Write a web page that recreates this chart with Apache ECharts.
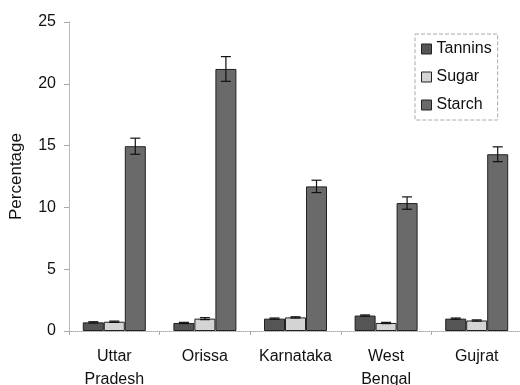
<!DOCTYPE html>
<html><head><meta charset="utf-8">
<script src="https://cdn.jsdelivr.net/npm/echarts@6/dist/echarts.min.js"></script>
<style>html,body{margin:0;padding:0;background:#fff}#c{width:520px;height:385px}</style>
</head><body><div id="c"></div>
<script>
const categories = ['Uttar\nPradesh', 'Orissa', 'Karnataka', 'West\nBengal', 'Gujrat'];
const tannins = [0.7, 0.65, 1.0, 1.25, 1.0];
const sugar = [0.75, 1.0, 1.1, 0.65, 0.85];
const starch = [14.95, 21.2, 11.7, 10.35, 14.3];
const tanninsErr = [0.05, 0.05, 0.05, 0.05, 0.05];
const sugarErr = [0.05, 0.08, 0.05, 0.05, 0.05];
const starchErr = [0.65, 1.0, 0.5, 0.5, 0.6];
const yTicks = [0, 5, 10, 15, 20, 25];

const BW = 21;
const names = ['Tannins', 'Sugar', 'Starch'];
const colors = ['#555555', '#d4d4d4', '#6a6a6a'];
const vals = [tannins, sugar, starch];
const errs = [tanninsErr, sugarErr, starchErr];

const series = [];
names.forEach((n, k) => {
  series.push({
    name: n, type: 'bar', barWidth: BW, barGap: '0%',
    data: vals[k],
    itemStyle: { color: colors[k], borderColor: '#222', borderWidth: 1 }
  });
});
names.forEach((n, k) => {
  series.push({
    type: 'custom', name: n + ' err', z: 5,
    data: vals[k].map((v, i) => [i, v, errs[k][i]]),
    renderItem: function (params, api) {
      const i = api.value(0), v = api.value(1), e = api.value(2);
      const off = (k - 1) * BW;
      const top = api.coord([i, v + e]);
      const bot = api.coord([i, v - e]);
      const x = top[0] + off;
      const h = 5;
      const st = { stroke: '#111', lineWidth: 1.2 };
      return { type: 'group', children: [
        { type: 'line', shape: { x1: x, y1: top[1], x2: x, y2: bot[1] }, style: st },
        { type: 'line', shape: { x1: x - h, y1: top[1], x2: x + h, y2: top[1] }, style: st },
        { type: 'line', shape: { x1: x - h, y1: bot[1], x2: x + h, y2: bot[1] }, style: st }
      ]};
    }
  });
});

const chart = echarts.init(document.getElementById('c'));
chart.setOption({
  animation: false,
  textStyle: { fontFamily: 'Liberation Sans, Arial, sans-serif' },
  grid: { left: 69, top: 22, width: 453, height: 309, containLabel: false, outerBoundsMode: 'none' },
  legend: {
    data: names, orient: 'vertical', left: 415, top: 34,
    itemWidth: 10, itemHeight: 10, itemGap: 12,
    padding: [7, 6, 7, 6],
    borderColor: '#aaa', borderWidth: 1, borderType: 'dashed',
    textStyle: { fontSize: 16, color: '#111', padding: [0, 0, 0, 0] },
    icon: 'rect',
    itemStyle: { borderColor: '#222', borderWidth: 1 }
  },
  xAxis: {
    type: 'category', data: categories,
    axisLine: { lineStyle: { color: '#aaa', type: 'dotted' } },
    axisTick: { show: true, length: 4, lineStyle: { color: '#aaa' } },
    axisLabel: { fontSize: 16, color: '#111', lineHeight: 23, margin: 14, interval: 0 }
  },
  yAxis: {
    type: 'value', min: yTicks[0], max: yTicks[yTicks.length - 1], interval: 5,
    name: 'Percentage', nameLocation: 'middle', nameGap: 44, nameRotate: 90,
    nameMoveOverlap: false,
    nameTextStyle: { fontSize: 17, color: '#111' },
    axisLine: { show: true, lineStyle: { color: '#aaa', type: 'dotted' } },
    axisTick: { show: true, length: 5, lineStyle: { color: '#aaa' } },
    splitLine: { show: false },
    axisLabel: { fontSize: 16, color: '#111', margin: 13 }
  },
  series: series
});
</script></body></html>
